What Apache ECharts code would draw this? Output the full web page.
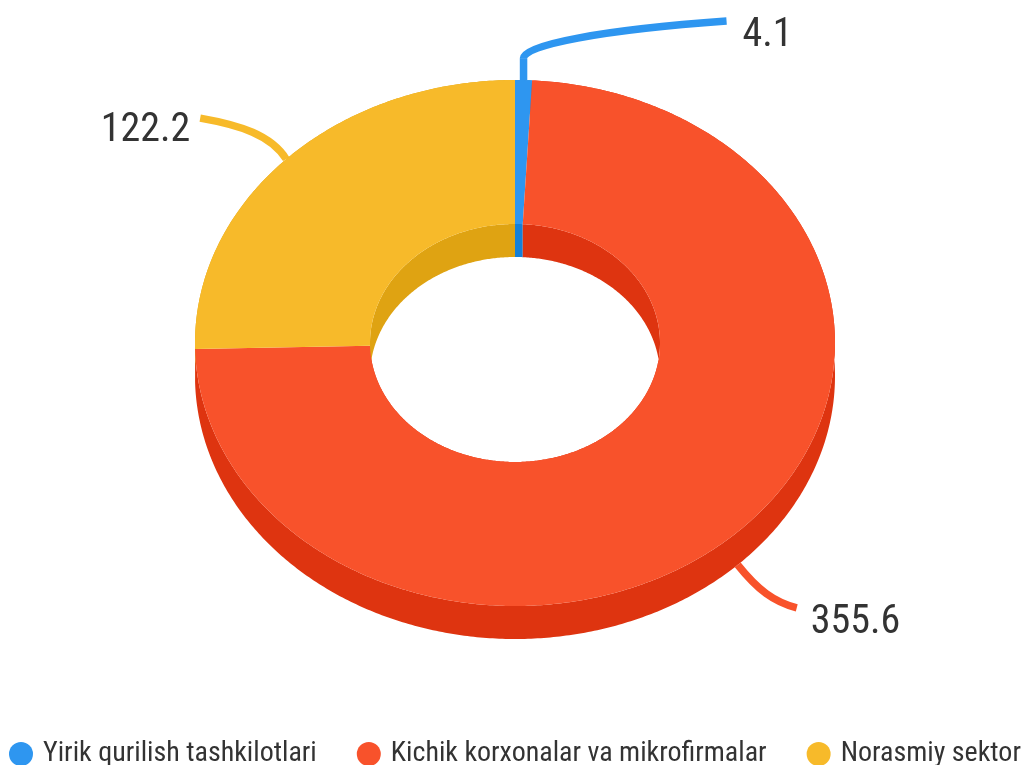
<!DOCTYPE html>
<html>
<head>
<meta charset="utf-8">
<style>
  html, body { margin: 0; padding: 0; background: #fff; }
  #chart { width: 1021px; height: 765px; }
</style>
<script src="https://cdn.jsdelivr.net/npm/echarts@6/dist/echarts.min.js"></script>
</head>
<body>
<div id="chart"></div>
<script>
const categories = ['Yirik qurilish tashkilotlari', 'Kichik korxonalar va mikrofirmalar', 'Norasmiy sektor'];
const values = [4.1, 355.6, 122.2];
const valueLabels = ['4.1', '355.6', '122.2'];
const topColors = ['#2E96F0', '#F8522B', '#F7BA2A'];
const sideColors = ['#1580D8', '#DE3410', '#DFA312'];

// ring geometry, the pie is tilted so everything is an ellipse
const cx = 515, cy = 343, rx = 320, ry = 263, holeRx = 145, holeRy = 119, depth = 33;
const total = values.reduce((a, b) => a + b, 0);
const FONT = '"Roboto Condensed", Roboto, sans-serif';
const TEXT_COLOR = '#333333';

// connector and label, relative to the slice mid point on the rim
const connectors = [
  { dy: 0, stem: -22, c1: [0, -35], c2: [77, -50], end: [203, -59], text: [219, -44], align: 'left' },
  { dy: 33, stem: 0, c1: [20, 25], c2: [36, 37], end: [59, 43], text: [73, 58], align: 'left' },
  { dy: 0, stem: 0, c1: [-15, -24], c2: [-46, -34], end: [-86, -41], text: [-96, -28], align: 'right' }
];

const rim = (t, a, b, dy) => [cx + a * Math.sin(t), cy + dy - b * Math.cos(t)];

function band(t0, t1, a, b, dy0, a2, b2, dy1) {
  const pts = [];
  const n = Math.max(2, Math.ceil((t1 - t0) / 0.01));
  for (let i = 0; i <= n; i++) pts.push(rim(t0 + (t1 - t0) * i / n, a, b, dy0));
  for (let i = n; i >= 0; i--) pts.push(rim(t0 + (t1 - t0) * i / n, a2, b2, dy1));
  return pts;
}

const series = categories.map((name, idx) => {
  const before = values.slice(0, idx).reduce((a, b) => a + b, 0);
  const t0 = before / total * Math.PI * 2;
  const t1 = (before + values[idx]) / total * Math.PI * 2;
  const mid = (t0 + t1) / 2;
  const c = connectors[idx];
  const renderItem = () => {
    const p = rim(mid, rx, ry, c.dy);
    const at = o => [p[0] + o[0], p[1] + o[1]];
    const s = [p[0], p[1] + c.stem];
    const e = at(c.end), c1 = at(c.c1), c2 = at(c.c2), tx = at(c.text);
    const lineStyle = { fill: null, stroke: topColors[idx], lineWidth: 7.5 };
    return {
      type: 'group',
      children: [
        { type: 'line', z2: 1, shape: { x1: p[0], y1: p[1], x2: s[0], y2: s[1] }, style: lineStyle },
        { type: 'bezierCurve', z2: 1, shape: { x1: s[0], y1: s[1], cpx1: c1[0], cpy1: c1[1], cpx2: c2[0], cpy2: c2[1], x2: e[0], y2: e[1] }, style: lineStyle },
        { type: 'polygon', z2: 2, shape: { points: band(t0, t1, rx, ry, 0, rx, ry, depth) }, style: { fill: sideColors[idx] } },
        { type: 'polygon', z2: 3, shape: { points: band(t0, t1, holeRx, holeRy, 0, holeRx, holeRy, depth) }, style: { fill: sideColors[idx] } },
        { type: 'polygon', z2: 4, shape: { points: band(t0, t1, rx, ry, 0, holeRx, holeRy, 0) }, style: { fill: topColors[idx] } },
        {
          type: 'text', z2: 5, x: tx[0], y: tx[1],
          style: { text: valueLabels[idx], fill: TEXT_COLOR, font: '40px ' + FONT, textAlign: c.align, textVerticalAlign: 'middle' }
        }
      ]
    };
  };
  return {
    type: 'custom',
    name,
    coordinateSystem: 'none',
    silent: true,
    itemStyle: { color: topColors[idx] },
    data: [values[idx]],
    renderItem
  };
});

const chart = echarts.init(document.getElementById('chart'));
chart.setOption({
  animation: false,
  backgroundColor: '#fff',
  legend: {
    data: categories.map(name => ({ name, icon: 'circle', itemStyle: { color: topColors[categories.indexOf(name)] } })),
    left: 9,
    top: 740,
    padding: 0,
    itemWidth: 34,
    itemHeight: 24,
    itemGap: 40,
    selectedMode: false,
    textStyle: { fontFamily: FONT, fontSize: 28, color: TEXT_COLOR }
  },
  series
});
</script>
</body>
</html>
